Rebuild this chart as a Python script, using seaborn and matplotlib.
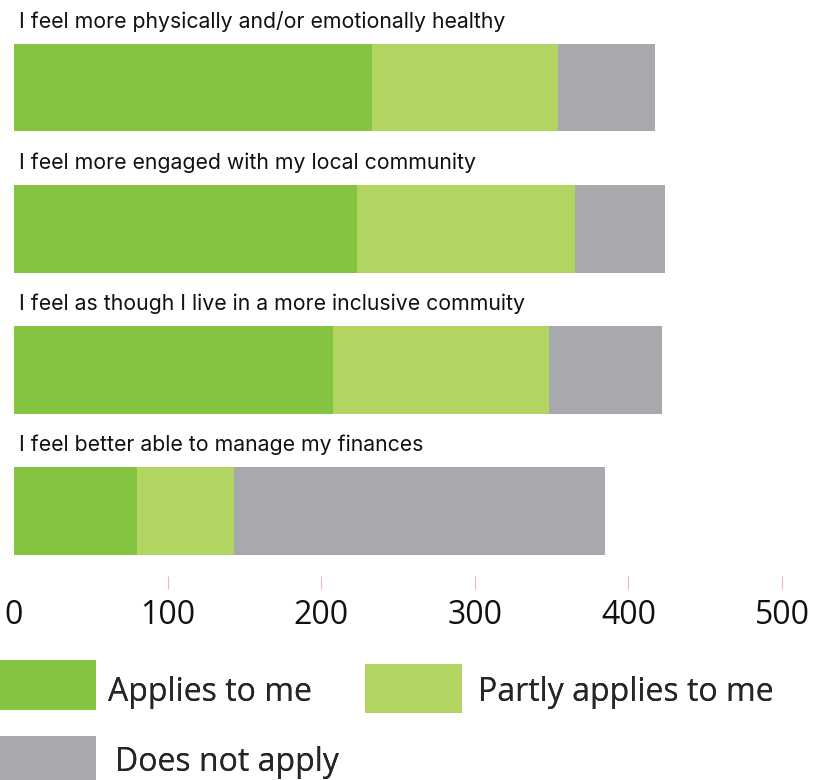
import matplotlib
matplotlib.use("Agg")
import matplotlib.pyplot as plt
import seaborn as sns
import pandas as pd
from matplotlib.patches import Patch, Rectangle
from matplotlib.legend_handler import HandlerPatch

# values
statements = [
    "I feel more physically and/or emotionally healthy",
    "I feel more engaged with my local community",
    "I feel as though I live in a more inclusive commuity",
    "I feel better able to manage my finances",
]
applies = [233, 223, 208, 80]
partly = [121, 142, 140, 63]
not_apply = [63, 59, 74, 242]

series_names = ["Applies to me", "Partly applies to me", "Does not apply"]
colors = ["#84C441", "#B2D562", "#A8A9AD"]

df = pd.DataFrame({"statement": statements, "applies": applies,
                   "partly": partly, "not_apply": not_apply})
df["cum1"] = df["applies"]
df["cum2"] = df["applies"] + df["partly"]
df["cum3"] = df["cum2"] + df["not_apply"]

sns.set_style("white")
plt.rcParams["font.family"] = ["Inter", "DejaVu Sans"]

fig = plt.figure(figsize=(8.3, 7.8), dpi=100)
ax = fig.add_axes([14 / 830, 1 - 576 / 780, 768 / 830, 559 / 780])

# stacked bars: draw totals first, then overlay the shorter cumulative ones
sns.barplot(data=df, y="statement", x="cum3", color=colors[2], width=0.62,
            saturation=1, orient="h", ax=ax)
sns.barplot(data=df, y="statement", x="cum2", color=colors[1], width=0.62,
            saturation=1, orient="h", ax=ax)
sns.barplot(data=df, y="statement", x="cum1", color=colors[0], width=0.62,
            saturation=1, orient="h", ax=ax)
for p in ax.patches:
    p.set_edgecolor("none")

ax.set_xlim(0, 500)
ax.set_ylim(3.46, -0.5)
ax.set_xlabel("")
ax.set_ylabel("")
ax.set_yticks([])
ax.set_xticks([0, 100, 200, 300, 400, 500])
ax.tick_params(axis="x", bottom=True, direction="out", length=9, width=0.8,
               color="#F2B3BD", pad=7.5, labelsize=23, labelcolor="#111111")
for lbl in ax.get_xticklabels():
    lbl.set_family(["Open Sans", "DejaVu Sans"])
ax.xaxis.get_major_ticks()[0].tick1line.set_visible(False)
for s in ax.spines.values():
    s.set_visible(False)

# statement labels above each bar
for i, s in enumerate(statements):
    ax.text(3, i - 0.47, s, ha="left", va="center", fontsize=15.3,
            color="#111111")


def shifted_swatch(shift):
    # legend swatch nudged up a little relative to its label
    def make(legend, orig_handle, xdescent, ydescent, width, height, fontsize):
        return Rectangle((-xdescent, -ydescent + shift), width, height)
    return make


# legend entries placed like the original (two on top row, one below)
legend_pos = [(-0.009, 1 - 659.5 / 780), (0.432, 1 - 660 / 780), (-0.009, 1 - 730 / 780)]
text_pads = [0.37, 0.5, 0.6]
patch_shift = [4, 2, 0]
for name, c, pos, tp, yp in zip(series_names, colors, legend_pos, text_pads, patch_shift):
    handle = Patch(facecolor=c, edgecolor="none")
    leg = fig.legend([handle], [name],
                     loc="upper left", bbox_to_anchor=pos, frameon=False,
                     handlelength=3.03, handleheight=2.0, handletextpad=tp,
                     borderpad=0.2, borderaxespad=0,
                     handler_map={handle: HandlerPatch(patch_func=shifted_swatch(yp))},
                     prop={"family": ["Open Sans", "DejaVu Sans"], "size": 23})
    fig.add_artist(leg)

fig.savefig("out.png", dpi=100)
